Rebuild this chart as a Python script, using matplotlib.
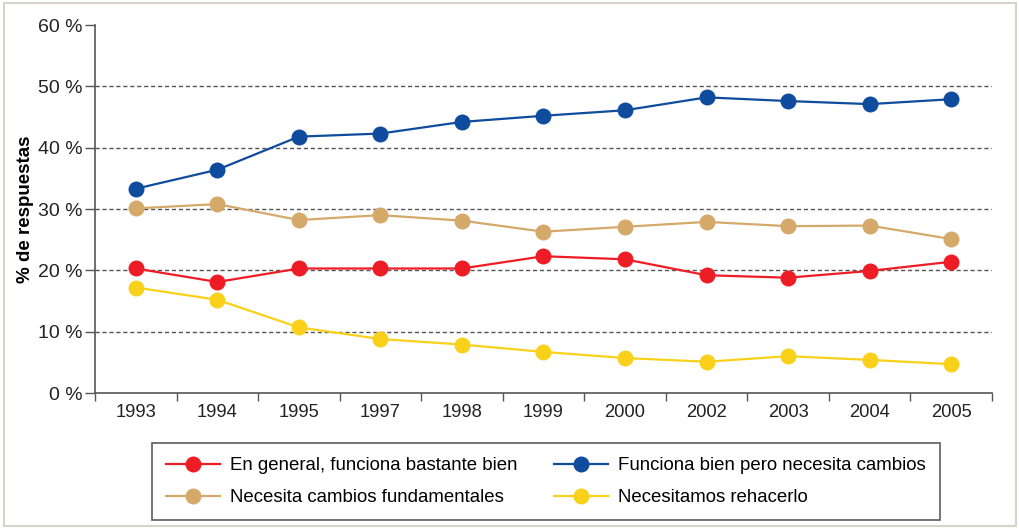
import matplotlib
matplotlib.use('Agg')
import matplotlib.pyplot as plt
from matplotlib.patches import Rectangle
import numpy as np

plt.rcParams['font.family'] = ['Liberation Sans', 'DejaVu Sans']

# ── Data ──────────────────────────────────────────────────────────────────
years = ['1993', '1994', '1995', '1997', '1998', '1999', '2000', '2002', '2003', '2004', '2005']
bastante_bien = [20.3, 18.1, 20.3, 20.3, 20.3, 22.3, 21.8, 19.2, 18.8, 19.9, 21.4]
necesita_cambios = [33.3, 36.4, 41.8, 42.3, 44.2, 45.2, 46.1, 48.2, 47.6, 47.1, 47.9]
cambios_fund = [30.1, 30.8, 28.2, 29.0, 28.1, 26.3, 27.1, 27.9, 27.2, 27.3, 25.1]
rehacerlo = [17.2, 15.2, 10.7, 8.8, 7.9, 6.7, 5.7, 5.1, 6.0, 5.4, 4.7]

series = [
    ('En general, funciona bastante bien', bastante_bien, '#EE1C25'),
    ('Necesita cambios fundamentales', cambios_fund, '#D4A96A'),
    ('Funciona bien pero necesita cambios', necesita_cambios, '#0F4C9E'),
    ('Necesitamos rehacerlo', rehacerlo, '#F9D11A'),
]

# ── Figure ────────────────────────────────────────────────────────────────
fig = plt.figure(figsize=(10.2, 5.29), dpi=100)
fig.patches.append(Rectangle((0.004, 0.006), 0.992, 0.988, transform=fig.transFigure,
                             fill=False, edgecolor='#d9d2ca', linewidth=1.5))
ax = fig.add_axes([95/1020, 1-393/529, (992-95)/1020, (393-25)/529])

x = np.arange(len(years))
for label, vals, color in series:
    ax.plot(x, vals, color=color, linewidth=1.6, marker='o', markersize=11.5,
            markeredgewidth=0, label=label, zorder=3)

ax.set_xlim(-0.5, len(years) - 0.5)
ax.set_ylim(0, 60)
ax.set_yticks(range(0, 61, 10))
ax.set_yticklabels([f'{v} %' for v in range(0, 61, 10)], fontsize=14, color='#222')
ax.set_xticks(x)
ax.set_xticklabels(years, fontsize=13.2, color='#222')
ax.set_xticks(np.arange(-0.5, len(years)), minor=True)
ax.tick_params(axis='x', which='major', length=0, pad=8)
ax.tick_params(axis='x', which='minor', length=6, color='#555', width=1)
ax.tick_params(axis='y', length=7, color='#555', width=1, pad=2)

for yv in range(10, 51, 10):
    ax.axhline(yv, color='#555', linewidth=1, linestyle=(0, (3, 2)), zorder=1)

ax.spines['top'].set_visible(False); ax.spines['right'].set_visible(False)
ax.spines['left'].set_color('#555'); ax.spines['bottom'].set_color('#555')
ax.spines['left'].set_linewidth(1.2); ax.spines['bottom'].set_linewidth(1.2)

ax.set_ylabel('% de respuestas', fontsize=13.5, fontweight='bold')
ax.yaxis.set_label_coords(-61/897, 0.5)

leg = fig.legend(loc='lower left', bbox_to_anchor=(152/1020, 1-520/529, (940-152)/1020, 77/529),
                 mode='expand', ncol=2, fontsize=13.4, frameon=True, fancybox=False,
                 handlelength=2.9, handletextpad=0.55, borderpad=0.75, labelspacing=0.8,
                 columnspacing=2.0, borderaxespad=0)
leg.get_frame().set_edgecolor('#333')
leg.get_frame().set_linewidth(1.2)

plt.savefig('out.png', dpi=100, facecolor='white')
